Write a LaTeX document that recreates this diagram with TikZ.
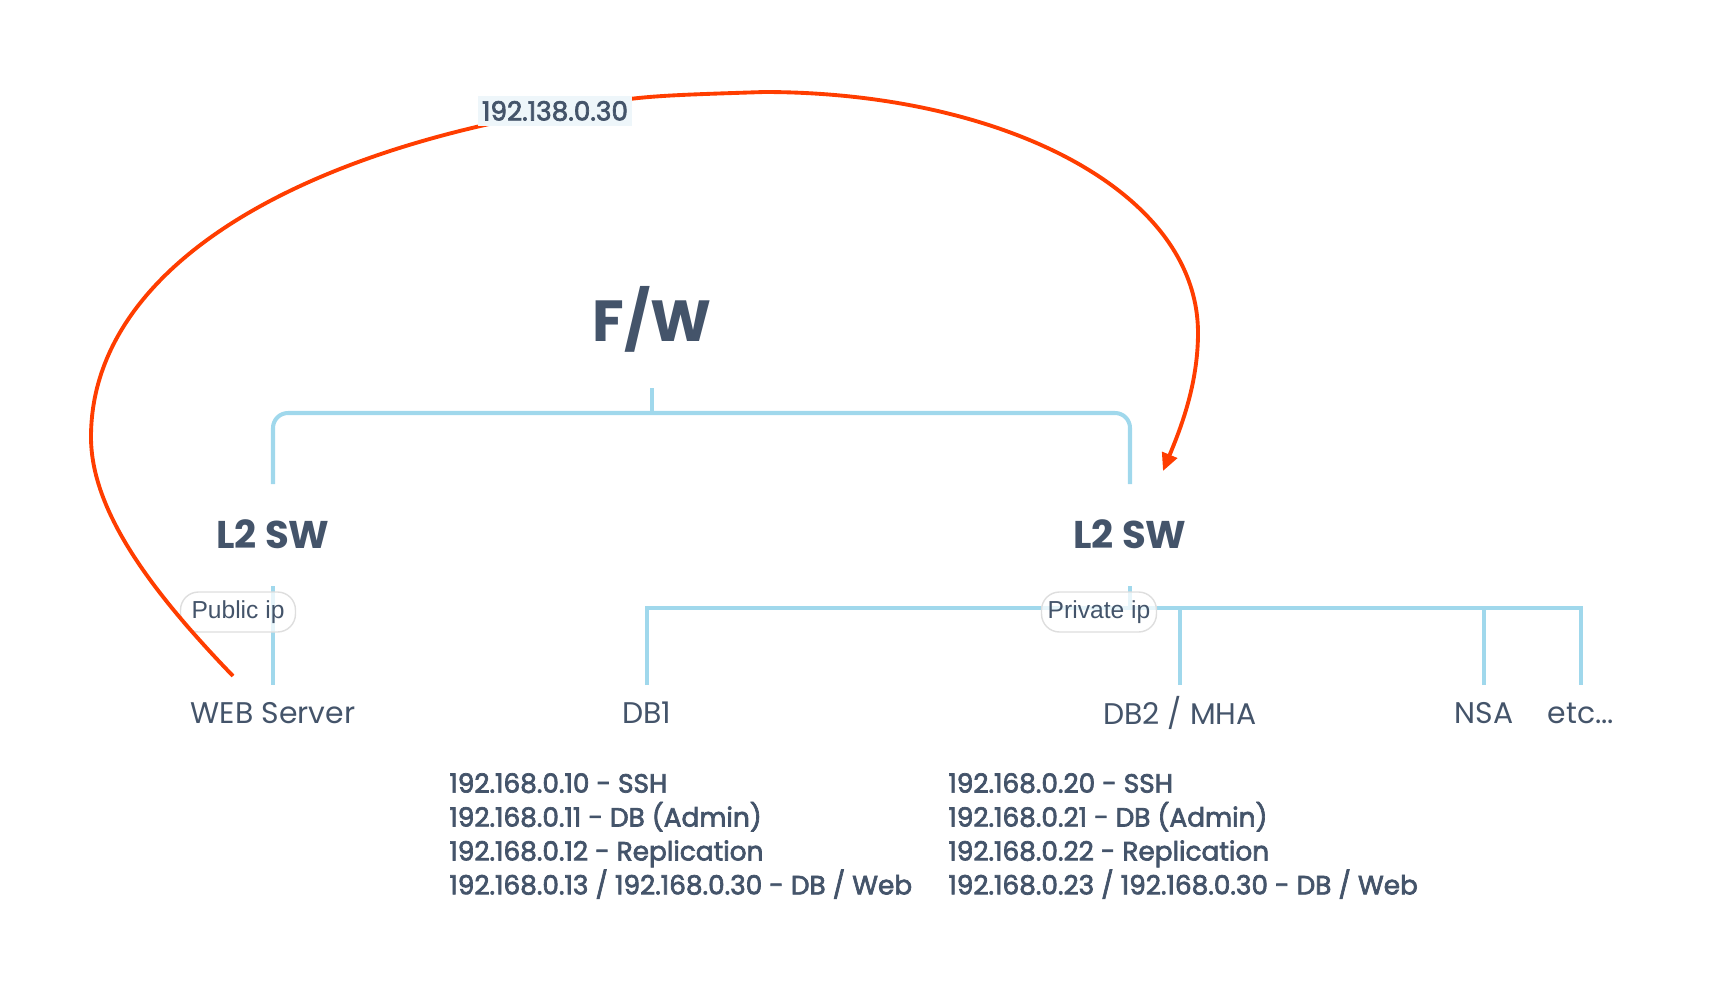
\documentclass[tikz,border=0pt]{standalone}
\usepackage{fontspec}
\setmainfont{Poppins}
\newfontfamily\semifont[FakeBold=2.6]{Poppins}
\newfontfamily\tagfont{Liberation Sans}
\usetikzlibrary{arrows.meta,positioning,calc}
\definecolor{slate}{RGB}{68,84,106}
\definecolor{linkblue}{RGB}{160,216,236}
\definecolor{hotred}{RGB}{255,61,0}
\definecolor{tagfill}{RGB}{238,246,250}
\definecolor{pillgray}{RGB}{222,222,222}

\begin{document}
\begin{tikzpicture}[x=0.02cm, y=-0.02cm,
        title/.style={font=\fontsize{33}{38}\selectfont\bfseries, text=slate, inner sep=0pt},
        switch/.style={font=\fontsize{22}{26}\selectfont\bfseries, text=slate, inner sep=0pt},
        host/.style={font=\fontsize{17}{20}\selectfont, text=slate, inner sep=0pt},
        iplist/.style={font=\fontsize{15}{19.3}\selectfont\semifont, text=slate, align=left, anchor=west, inner sep=0pt},
        pill/.style={draw=pillgray, line width=0.8pt, fill=white, fill opacity=0.75, text opacity=1, rounded corners=0.36cm, minimum width=2.3cm, minimum height=0.8cm, inner sep=0pt, font=\fontsize{14}{16}\selectfont\tagfont, text=slate},
        addr/.style={fill=tagfill, text=slate, font=\fontsize{15}{18}\selectfont\semifont, minimum width=3.1cm, minimum height=0.6cm, inner sep=0pt},
        tree/.style={draw=linkblue, line width=2.3pt},
        redarr/.style={draw=hotred, line width=2.2pt, -{Triangle[length=10pt, width=9pt]}},
    ]
    \useasboundingbox (0,0) rectangle (1712,1002);

    \node[title] (fw) at (652,319) {F/W};
    \node[switch] (swl) at (273,534) {L2 SW};
    \node[switch] (swr) at (1130,534) {L2 SW};

    \node[host] (web) at (273,713) {WEB Server};
    \node[host] (db1) at (647,713) {DB1};
    \node[host] (db2) at (1180,713) {DB2 / MHA};
    \node[host] (nsa) at (1484,713) {NSA};
    \node[host] (etc) at (1581,713) {etc...};

    \node[iplist] (ipl) at (449,836) {192.168.0.10 - SSH\\192.168.0.11 - DB (Admin)\\192.168.0.12 - Replication\\192.168.0.13 / 192.168.0.30 - DB / Web};
    \node[iplist] (ipr) at (948,836) {192.168.0.20 - SSH\\192.168.0.21 - DB (Admin)\\192.168.0.22 - Replication\\192.168.0.23 / 192.168.0.30 - DB / Web};

    % F/W to both switches
    \draw[tree] ($(fw)+(0,69)$) -- ($(fw)+(0,94)$);
    \draw[tree, rounded corners=0.3cm] ($(swl)+(0,-50)$) |- ($(fw)+(0,94)$) -| ($(swr)+(0,-50)$);

    % public side
    \draw[tree] ($(swl)+(0,52)$) -- ($(web)+(0,-28)$);

    % private side
    \draw[tree] ($(swr)+(0,52)$) -- ($(swr)+(0,74)$);
    \draw[tree] ($(db1)+(0,-28)$) |- ($(swr)+(0,74)$) -| ($(etc)+(0,-28)$);
    \draw[tree] ($(db2)+(0,-28)$) -- ($(db2)+(0,-105)$);
    \draw[tree] ($(nsa)+(0,-28)$) -- ($(nsa)+(0,-105)$);

    \node[pill] (pub) at (238,612) {Public ip};
    \node[pill] (priv) at (1099,612) {Private ip};

    % routed address
    \coordinate (vipc) at (555,111);
    \draw[redarr] ($(web)+(-40,-37)$) .. controls (150,590) and (91,510) .. (91,437)
        .. controls (91,280) and (270,160) .. (vipc)
        .. controls (640,96) .. (764,92)
        .. controls (1000,92) and (1198,190) .. (1198,333)
        .. controls (1198,385) and (1180,430) .. ($(swr)+(33,-63)$);
    \node[addr] (vip) at (vipc) {192.138.0.30};
\end{tikzpicture}
\end{document}
